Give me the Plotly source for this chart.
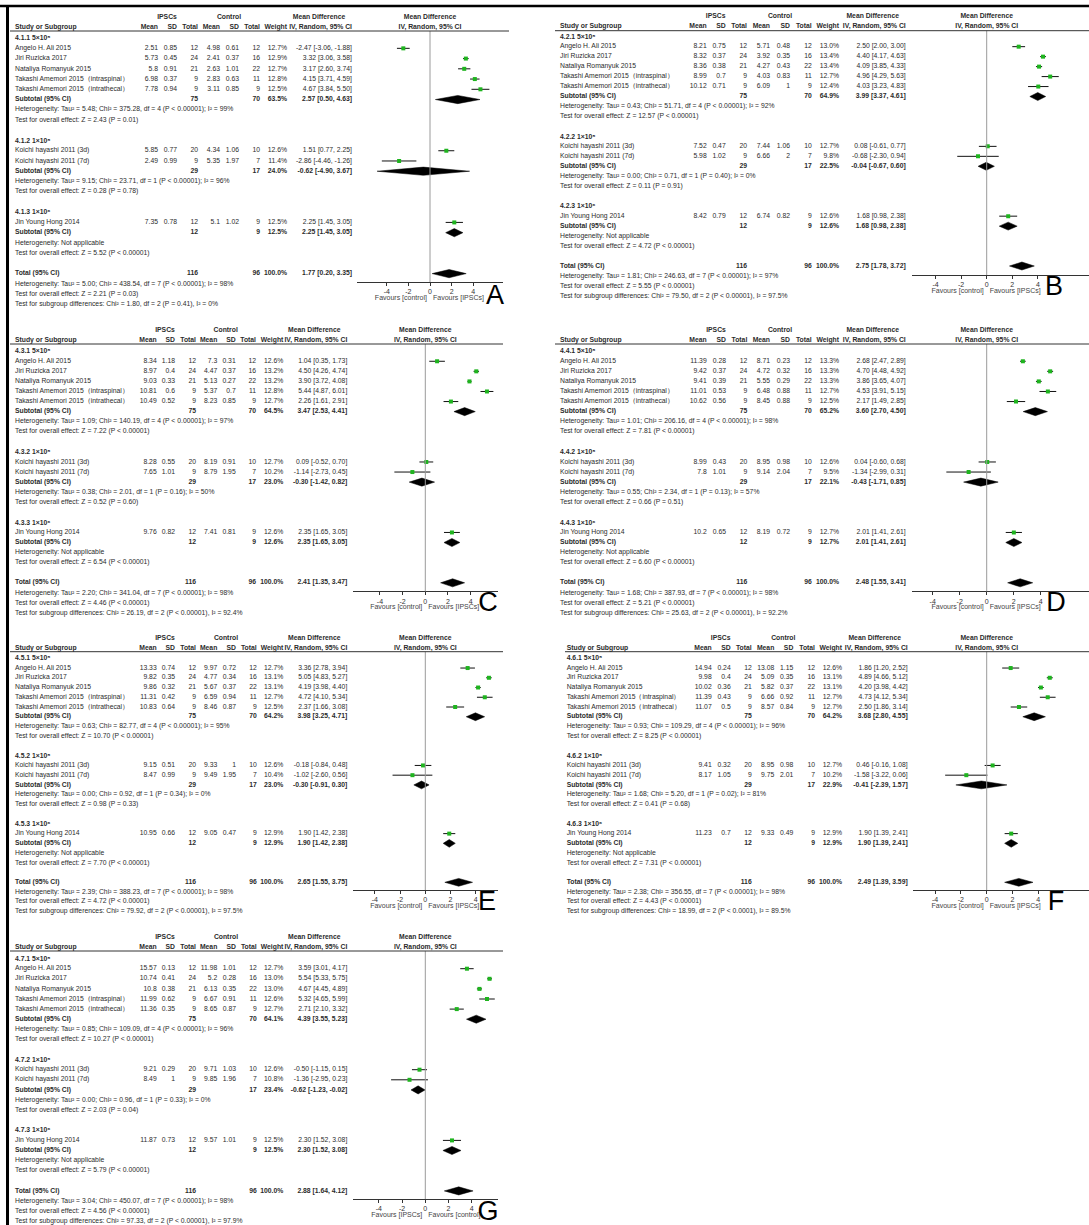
import plotly.graph_objects as go

W, H = 1089, 1225

# ---------------------------------------------------------------- shared data
STUDIES = ["Angelo H. Ali 2015", "Jiri Ruzicka 2017", "Nataliya Romanyuk 2015",
           "Takashi Amemori 2015（intraspinal）", "Takashi Amemori 2015（intrathecal）",
           "Koichi hayashi 2011 (3d)", "Koichi hayashi 2011 (7d)", "Jin Young Hong 2014"]
SUBGROUP_STUDIES = [[0, 1, 2, 3, 4], [5, 6], [7]]
DOSES = ["5×10⁵", "1×10⁵", "1×10⁶"]
IPSC_N = [12, 24, 21, 9, 9, 20, 9, 12]
CTRL_N = [12, 16, 22, 11, 9, 10, 7, 9]
POOL_IPSC_N = [75, 29, 12, 116]
POOL_CTRL_N = [70, 17, 9, 96]
TICKS = [-4, -2, 0, 2, 4]
FAVOURS = ["Favours [control]", "Favours [IPSCs]"]
FAVOURS_G = ["Favours [IPSCs]", "Favours [control]"]

# ---------------------------------------------------------------- 4.1 (A)
A_IPSC_MEAN = [2.51, 5.73, 5.8, 6.98, 7.78, 5.85, 2.49, 7.35]
A_IPSC_SD = [0.85, 0.45, 0.91, 0.37, 0.94, 0.77, 0.99, 0.78]
A_CTRL_MEAN = [4.98, 2.41, 2.63, 2.83, 3.11, 4.34, 5.35, 5.1]
A_CTRL_SD = [0.61, 0.37, 1.01, 0.63, 0.85, 1.06, 1.97, 1.02]
A_WEIGHT = [12.7, 12.9, 12.7, 12.8, 12.5, 12.6, 11.4, 12.5]
A_MD = [-2.47, 3.32, 3.17, 4.15, 4.67, 1.51, -2.86, 2.25]
A_LO = [-3.06, 3.06, 2.60, 3.71, 3.84, 0.77, -4.46, 1.45]
A_HI = [-1.88, 3.58, 3.74, 4.59, 5.50, 2.25, -1.26, 3.05]
A_POOL_WEIGHT = [63.5, 24.0, 12.5, 100.0]
A_POOL_MD = [2.57, -0.62, 2.25, 1.77]
A_POOL_LO = [0.50, -4.90, 1.45, 0.20]
A_POOL_HI = [4.63, 3.67, 3.05, 3.35]
A_HET = ["Tau² = 5.48; Chi² = 375.28, df = 4 (P < 0.00001); I² = 99%",
         "Tau² = 9.15; Chi² = 23.71, df = 1 (P < 0.00001); I² = 96%",
         "Not applicable",
         "Tau² = 5.00; Chi² = 438.54, df = 7 (P < 0.00001); I² = 98%"]
A_Z = ["Z = 2.43 (P = 0.01)", "Z = 0.28 (P = 0.78)", "Z = 5.52 (P < 0.00001)", "Z = 2.21 (P = 0.03)"]
A_SUBDIFF = "Chi² = 1.80, df = 2 (P = 0.41), I² = 0%"

# ---------------------------------------------------------------- 4.2 (B)
B_IPSC_MEAN = [8.21, 8.32, 8.36, 8.99, 10.12, 7.52, 5.98, 8.42]
B_IPSC_SD = [0.75, 0.37, 0.38, 0.7, 0.71, 0.47, 1.02, 0.79]
B_CTRL_MEAN = [5.71, 3.92, 4.27, 4.03, 6.09, 7.44, 6.66, 6.74]
B_CTRL_SD = [0.48, 0.35, 0.43, 0.83, 1, 1.06, 2, 0.82]
B_WEIGHT = [13.0, 13.4, 13.4, 12.7, 12.4, 12.7, 9.8, 12.6]
B_MD = [2.50, 4.40, 4.09, 4.96, 4.03, 0.08, -0.68, 1.68]
B_LO = [2.00, 4.17, 3.85, 4.29, 3.23, -0.61, -2.30, 0.98]
B_HI = [3.00, 4.63, 4.33, 5.63, 4.83, 0.77, 0.94, 2.38]
B_POOL_WEIGHT = [64.9, 22.5, 12.6, 100.0]
B_POOL_MD = [3.99, -0.04, 1.68, 2.75]
B_POOL_LO = [3.37, -0.67, 0.98, 1.78]
B_POOL_HI = [4.61, 0.60, 2.38, 3.72]
B_HET = ["Tau² = 0.43; Chi² = 51.71, df = 4 (P < 0.00001); I² = 92%",
         "Tau² = 0.00; Chi² = 0.71, df = 1 (P = 0.40); I² = 0%",
         "Not applicable",
         "Tau² = 1.81; Chi² = 246.63, df = 7 (P < 0.00001); I² = 97%"]
B_Z = ["Z = 12.57 (P < 0.00001)", "Z = 0.11 (P = 0.91)", "Z = 4.72 (P < 0.00001)", "Z = 5.55 (P < 0.00001)"]
B_SUBDIFF = "Chi² = 79.50, df = 2 (P < 0.00001), I² = 97.5%"

# ---------------------------------------------------------------- 4.3 (C)
C_IPSC_MEAN = [8.34, 8.97, 9.03, 10.81, 10.49, 8.28, 7.65, 9.76]
C_IPSC_SD = [1.18, 0.4, 0.33, 0.6, 0.52, 0.55, 1.01, 0.82]
C_CTRL_MEAN = [7.3, 4.47, 5.13, 5.37, 8.23, 8.19, 8.79, 7.41]
C_CTRL_SD = [0.31, 0.37, 0.27, 0.7, 0.85, 0.91, 1.95, 0.81]
C_WEIGHT = [12.6, 13.2, 13.2, 12.8, 12.7, 12.7, 10.2, 12.6]
C_MD = [1.04, 4.50, 3.90, 5.44, 2.26, 0.09, -1.14, 2.35]
C_LO = [0.35, 4.26, 3.72, 4.87, 1.61, -0.52, -2.73, 1.65]
C_HI = [1.73, 4.74, 4.08, 6.01, 2.91, 0.70, 0.45, 3.05]
C_POOL_WEIGHT = [64.5, 23.0, 12.6, 100.0]
C_POOL_MD = [3.47, -0.30, 2.35, 2.41]
C_POOL_LO = [2.53, -1.42, 1.65, 1.35]
C_POOL_HI = [4.41, 0.82, 3.05, 3.47]
C_HET = ["Tau² = 1.09; Chi² = 140.19, df = 4 (P < 0.00001); I² = 97%",
         "Tau² = 0.38; Chi² = 2.01, df = 1 (P = 0.16); I² = 50%",
         "Not applicable",
         "Tau² = 2.20; Chi² = 341.04, df = 7 (P < 0.00001); I² = 98%"]
C_Z = ["Z = 7.22 (P < 0.00001)", "Z = 0.52 (P = 0.60)", "Z = 6.54 (P < 0.00001)", "Z = 4.46 (P < 0.00001)"]
C_SUBDIFF = "Chi² = 26.19, df = 2 (P < 0.00001), I² = 92.4%"

# ---------------------------------------------------------------- 4.4 (D)
D_IPSC_MEAN = [11.39, 9.42, 9.41, 11.01, 10.62, 8.99, 7.8, 10.2]
D_IPSC_SD = [0.28, 0.37, 0.39, 0.53, 0.56, 0.43, 1.01, 0.65]
D_CTRL_MEAN = [8.71, 4.72, 5.55, 6.48, 8.45, 8.95, 9.14, 8.19]
D_CTRL_SD = [0.23, 0.32, 0.29, 0.88, 0.88, 0.98, 2.04, 0.72]
D_WEIGHT = [13.3, 13.3, 13.3, 12.7, 12.5, 12.6, 9.5, 12.7]
D_MD = [2.68, 4.70, 3.86, 4.53, 2.17, 0.04, -1.34, 2.01]
D_LO = [2.47, 4.48, 3.65, 3.91, 1.49, -0.60, -2.99, 1.41]
D_HI = [2.89, 4.92, 4.07, 5.15, 2.85, 0.68, 0.31, 2.61]
D_POOL_WEIGHT = [65.2, 22.1, 12.7, 100.0]
D_POOL_MD = [3.60, -0.43, 2.01, 2.48]
D_POOL_LO = [2.70, -1.71, 1.41, 1.55]
D_POOL_HI = [4.50, 0.85, 2.61, 3.41]
D_HET = ["Tau² = 1.01; Chi² = 206.16, df = 4 (P < 0.00001); I² = 98%",
         "Tau² = 0.55; Chi² = 2.34, df = 1 (P = 0.13); I² = 57%",
         "Not applicable",
         "Tau² = 1.68; Chi² = 387.93, df = 7 (P < 0.00001); I² = 98%"]
D_Z = ["Z = 7.81 (P < 0.00001)", "Z = 0.66 (P = 0.51)", "Z = 6.60 (P < 0.00001)", "Z = 5.21 (P < 0.00001)"]
D_SUBDIFF = "Chi² = 25.63, df = 2 (P < 0.00001), I² = 92.2%"

# ---------------------------------------------------------------- 4.5 (E)
E_IPSC_MEAN = [13.33, 9.82, 9.86, 11.31, 10.83, 9.15, 8.47, 10.95]
E_IPSC_SD = [0.74, 0.35, 0.32, 0.42, 0.64, 0.51, 0.99, 0.66]
E_CTRL_MEAN = [9.97, 4.77, 5.67, 6.59, 8.46, 9.33, 9.49, 9.05]
E_CTRL_SD = [0.72, 0.34, 0.37, 0.94, 0.87, 1, 1.95, 0.47]
E_WEIGHT = [12.7, 13.1, 13.1, 12.7, 12.5, 12.6, 10.4, 12.9]
E_MD = [3.36, 5.05, 4.19, 4.72, 2.37, -0.18, -1.02, 1.90]
E_LO = [2.78, 4.83, 3.98, 4.10, 1.66, -0.84, -2.60, 1.42]
E_HI = [3.94, 5.27, 4.40, 5.34, 3.08, 0.48, 0.56, 2.38]
E_POOL_WEIGHT = [64.2, 23.0, 12.9, 100.0]
E_POOL_MD = [3.98, -0.30, 1.90, 2.65]
E_POOL_LO = [3.25, -0.91, 1.42, 1.55]
E_POOL_HI = [4.71, 0.30, 2.38, 3.75]
E_HET = ["Tau² = 0.63; Chi² = 82.77, df = 4 (P < 0.00001); I² = 95%",
         "Tau² = 0.00; Chi² = 0.92, df = 1 (P = 0.34); I² = 0%",
         "Not applicable",
         "Tau² = 2.39; Chi² = 388.23, df = 7 (P < 0.00001); I² = 98%"]
E_Z = ["Z = 10.70 (P < 0.00001)", "Z = 0.98 (P = 0.33)", "Z = 7.70 (P < 0.00001)", "Z = 4.72 (P < 0.00001)"]
E_SUBDIFF = "Chi² = 79.92, df = 2 (P < 0.00001), I² = 97.5%"

# ---------------------------------------------------------------- 4.6 (F)
F_IPSC_MEAN = [14.94, 9.98, 10.02, 11.39, 11.07, 9.41, 8.17, 11.23]
F_IPSC_SD = [0.24, 0.4, 0.36, 0.43, 0.5, 0.32, 1.05, 0.7]
F_CTRL_MEAN = [13.08, 5.09, 5.82, 6.66, 8.57, 8.95, 9.75, 9.33]
F_CTRL_SD = [1.15, 0.35, 0.37, 0.92, 0.84, 0.98, 2.01, 0.49]
F_WEIGHT = [12.6, 13.1, 13.1, 12.7, 12.7, 12.7, 10.2, 12.9]
F_MD = [1.86, 4.89, 4.20, 4.73, 2.50, 0.46, -1.58, 1.90]
F_LO = [1.20, 4.66, 3.98, 4.12, 1.86, -0.16, -3.22, 1.39]
F_HI = [2.52, 5.12, 4.42, 5.34, 3.14, 1.08, 0.06, 2.41]
F_POOL_WEIGHT = [64.2, 22.9, 12.9, 100.0]
F_POOL_MD = [3.68, -0.41, 1.90, 2.49]
F_POOL_LO = [2.80, -2.39, 1.39, 1.39]
F_POOL_HI = [4.55, 1.57, 2.41, 3.59]
F_HET = ["Tau² = 0.93; Chi² = 109.29, df = 4 (P < 0.00001); I² = 96%",
         "Tau² = 1.68; Chi² = 5.20, df = 1 (P = 0.02); I² = 81%",
         "Not applicable",
         "Tau² = 2.38; Chi² = 356.55, df = 7 (P < 0.00001); I² = 98%"]
F_Z = ["Z = 8.25 (P < 0.00001)", "Z = 0.41 (P = 0.68)", "Z = 7.31 (P < 0.00001)", "Z = 4.43 (P < 0.00001)"]
F_SUBDIFF = "Chi² = 18.99, df = 2 (P < 0.0001), I² = 89.5%"

# ---------------------------------------------------------------- 4.7 (G)
G_IPSC_MEAN = [15.57, 10.74, 10.8, 11.99, 11.36, 9.21, 8.49, 11.87]
G_IPSC_SD = [0.13, 0.41, 0.38, 0.62, 0.35, 0.29, 1, 0.73]
G_CTRL_MEAN = [11.98, 5.2, 6.13, 6.67, 8.65, 9.71, 9.85, 9.57]
G_CTRL_SD = [1.01, 0.28, 0.35, 0.91, 0.87, 1.03, 1.96, 1.01]
G_WEIGHT = [12.7, 13.0, 13.0, 12.6, 12.7, 12.6, 10.8, 12.5]
G_MD = [3.59, 5.54, 4.67, 5.32, 2.71, -0.50, -1.36, 2.30]
G_LO = [3.01, 5.33, 4.45, 4.65, 2.10, -1.15, -2.95, 1.52]
G_HI = [4.17, 5.75, 4.89, 5.99, 3.32, 0.15, 0.23, 3.08]
G_POOL_WEIGHT = [64.1, 23.4, 12.5, 100.0]
G_POOL_MD = [4.39, -0.62, 2.30, 2.88]
G_POOL_LO = [3.55, -1.23, 1.52, 1.64]
G_POOL_HI = [5.23, -0.02, 3.08, 4.12]
G_HET = ["Tau² = 0.85; Chi² = 109.09, df = 4 (P < 0.00001); I² = 96%",
         "Tau² = 0.00; Chi² = 0.96, df = 1 (P = 0.33); I² = 0%",
         "Not applicable",
         "Tau² = 3.04; Chi² = 450.07, df = 7 (P < 0.00001); I² = 98%"]
G_Z = ["Z = 10.27 (P < 0.00001)", "Z = 2.03 (P = 0.04)", "Z = 5.79 (P < 0.00001)", "Z = 4.56 (P < 0.00001)"]
G_SUBDIFF = "Chi² = 97.33, df = 2 (P < 0.00001), I² = 97.9%"

# ---------------------------------------------------------------- panels
PANELS = [
    dict(letter="A", code="4.1", im=A_IPSC_MEAN, isd=A_IPSC_SD, cm=A_CTRL_MEAN, csd=A_CTRL_SD,
         w=A_WEIGHT, md=A_MD, lo=A_LO, hi=A_HI, pw=A_POOL_WEIGHT, pmd=A_POOL_MD,
         plo=A_POOL_LO, phi=A_POOL_HI, het=A_HET, z=A_Z, sub=A_SUBDIFF, fav=FAVOURS),
    dict(letter="B", code="4.2", im=B_IPSC_MEAN, isd=B_IPSC_SD, cm=B_CTRL_MEAN, csd=B_CTRL_SD,
         w=B_WEIGHT, md=B_MD, lo=B_LO, hi=B_HI, pw=B_POOL_WEIGHT, pmd=B_POOL_MD,
         plo=B_POOL_LO, phi=B_POOL_HI, het=B_HET, z=B_Z, sub=B_SUBDIFF, fav=FAVOURS),
    dict(letter="C", code="4.3", im=C_IPSC_MEAN, isd=C_IPSC_SD, cm=C_CTRL_MEAN, csd=C_CTRL_SD,
         w=C_WEIGHT, md=C_MD, lo=C_LO, hi=C_HI, pw=C_POOL_WEIGHT, pmd=C_POOL_MD,
         plo=C_POOL_LO, phi=C_POOL_HI, het=C_HET, z=C_Z, sub=C_SUBDIFF, fav=FAVOURS),
    dict(letter="D", code="4.4", im=D_IPSC_MEAN, isd=D_IPSC_SD, cm=D_CTRL_MEAN, csd=D_CTRL_SD,
         w=D_WEIGHT, md=D_MD, lo=D_LO, hi=D_HI, pw=D_POOL_WEIGHT, pmd=D_POOL_MD,
         plo=D_POOL_LO, phi=D_POOL_HI, het=D_HET, z=D_Z, sub=D_SUBDIFF, fav=FAVOURS),
    dict(letter="E", code="4.5", im=E_IPSC_MEAN, isd=E_IPSC_SD, cm=E_CTRL_MEAN, csd=E_CTRL_SD,
         w=E_WEIGHT, md=E_MD, lo=E_LO, hi=E_HI, pw=E_POOL_WEIGHT, pmd=E_POOL_MD,
         plo=E_POOL_LO, phi=E_POOL_HI, het=E_HET, z=E_Z, sub=E_SUBDIFF, fav=FAVOURS),
    dict(letter="F", code="4.6", im=F_IPSC_MEAN, isd=F_IPSC_SD, cm=F_CTRL_MEAN, csd=F_CTRL_SD,
         w=F_WEIGHT, md=F_MD, lo=F_LO, hi=F_HI, pw=F_POOL_WEIGHT, pmd=F_POOL_MD,
         plo=F_POOL_LO, phi=F_POOL_HI, het=F_HET, z=F_Z, sub=F_SUBDIFF, fav=FAVOURS),
    dict(letter="G", code="4.7", im=G_IPSC_MEAN, isd=G_IPSC_SD, cm=G_CTRL_MEAN, csd=G_CTRL_SD,
         w=G_WEIGHT, md=G_MD, lo=G_LO, hi=G_HI, pw=G_POOL_WEIGHT, pmd=G_POOL_MD,
         plo=G_POOL_LO, phi=G_POOL_HI, het=G_HET, z=G_Z, sub=G_SUBDIFF, fav=FAVOURS_G),
]

# Page geometry of each panel (pixels): table columns, forest scale, rows.
# cols = right edges of Mean, SD, Total | Mean, SD, Total | Weight | MD text
GEOM = {
    "A": dict(sx=15, cols=[158, 177, 198, 220, 239, 260, 287, 352], zero=430, pxu=10.8,
              ax=(357, 503), row0=38.1, dy=10.24, h1=17, h2=27, rule=(10, 509, 31),
              axis_y=282, lpos=(495, 297)),
    "B": dict(sx=560, cols=[706.7, 725.7, 747, 770, 790, 811.7, 839, 905.7], zero=986.7, pxu=12.8,
              ax=(911.7, 1089), row0=36.7, dy=9.97, h1=16.7, h2=26.7, rule=(555, 1089, 30.7),
              axis_y=275, lpos=(1054, 288)),
    "C": dict(sx=15, cols=[156.7, 175, 196, 217.3, 235.7, 256, 283.3, 347.3], zero=425.3, pxu=11.33,
              ax=(353, 498), row0=351.2, dy=10.07, h1=330.7, h2=340.7, rule=(10, 503, 344),
              axis_y=591.3, lpos=(488, 604)),
    "D": dict(sx=560, cols=[706.7, 726, 747.3, 770, 790, 811.7, 839, 905.7], zero=986.7, pxu=13.5,
              ax=(911.7, 1089), row0=351.2, dy=10.07, h1=330.7, h2=340.7, rule=(555, 1089, 344),
              axis_y=591.3, lpos=(1056, 604)),
    "E": dict(sx=15, cols=[156.7, 175, 196, 217.3, 236, 256.7, 283.3, 347.3], zero=425.3, pxu=12.6,
              ax=(353, 498), row0=658.3, dy=9.74, h1=638.3, h2=648.3, rule=(10, 503, 651.7),
              axis_y=890, lpos=(487, 903)),
    "F": dict(sx=566.7, cols=[711.7, 730.7, 751.7, 774.3, 793.3, 815, 842, 907.7], zero=986.7, pxu=12.9,
              ax=(913, 1089), row0=658.3, dy=9.74, h1=638.3, h2=648.3, rule=(565, 1089, 651.7),
              axis_y=890, lpos=(1056, 903)),
    "G": dict(sx=15, cols=[156.7, 175, 196, 217.3, 236, 256.7, 283.3, 347.3], zero=425.3, pxu=11.6,
              ax=(353, 498), row0=958.6, dy=10.1, h1=937.7, h2=947.7, rule=(10, 503, 951),
              axis_y=1199, lpos=(488, 1213)),
}

FONT = "Liberation Sans, Arial, sans-serif"
TEXT_SIZE = 6.8
TEXT_COL = "#2b2b2b"
GREEN = "#1fb41f"
POS = {"l": "middle right", "r": "middle left", "c": "middle center"}


def num(v):
    return format(v, "g")


def ci_text(m, lo, hi):
    return f"{m:.2f} [{lo:.2f}, {hi:.2f}]"


fig = go.Figure()
layout = dict(width=W, height=H, margin=dict(l=0, r=0, t=0, b=0),
              paper_bgcolor="white", plot_bgcolor="rgba(0,0,0,0)",
              showlegend=False, shapes=[])

# shared vertical pixel axis and horizontal pixel axis for the tables
layout["yaxis"] = dict(domain=[0, 1], range=[H, 0], visible=False, fixedrange=True)
layout["xaxis8"] = dict(domain=[0, 1], range=[0, W], visible=False, fixedrange=True, anchor="y")

letter_x, letter_y, letter_t = [], [], []

for k, p in enumerate(PANELS, start=1):
    g = GEOM[p["letter"]]
    xname = "x" if k == 1 else f"x{k}"
    xkey = "xaxis" if k == 1 else f"xaxis{k}"
    c = g["cols"]
    sx = g["sx"]

    def row_y(i):
        return g["row0"] + i * g["dy"]

    tx, ty, tt, tp = [], [], [], []

    def put(x, y, s, align, bold=False):
        tx.append(x)
        ty.append(y)
        tt.append(f"<b>{s}</b>" if bold else s)
        tp.append(POS[align])

    # header block
    put((c[1] - 10), g["h1"], "IPSCs", "c", True)
    put((c[4] - 10), g["h1"], "Control", "c", True)
    put(c[7] - 33, g["h1"], "Mean Difference", "c", True)
    put(g["zero"], g["h1"], "Mean Difference", "c", True)
    put(sx, g["h2"], "Study or Subgroup", "l", True)
    for col, lab in zip(c[:7], ["Mean", "SD", "Total", "Mean", "SD", "Total", "Weight"]):
        put(col, g["h2"], lab, "r", True)
    put(c[7], g["h2"], "IV, Random, 95% CI", "r", True)
    put(g["zero"], g["h2"], "IV, Random, 95% CI", "c", True)

    study_rows, pool_rows = [], []
    r = 0
    for s, members in enumerate(SUBGROUP_STUDIES):
        put(sx, row_y(r) + 0.5, f"{p['code']}.{s + 1} {DOSES[s]}", "l", True)
        r += 1
        for j in members:
            y = row_y(r)
            study_rows.append(y)
            put(sx, y, STUDIES[j], "l")
            vals = [num(p["im"][j]), num(p["isd"][j]), str(IPSC_N[j]),
                    num(p["cm"][j]), num(p["csd"][j]), str(CTRL_N[j]),
                    f"{p['w'][j]:.1f}%", ci_text(p["md"][j], p["lo"][j], p["hi"][j])]
            for col, v in zip(c, vals):
                put(col, y, v, "r")
            r += 1
        y = row_y(r)
        pool_rows.append(y)
        put(sx, y, "Subtotal (95% CI)", "l", True)
        put(c[2], y, str(POOL_IPSC_N[s]), "r", True)
        put(c[5], y, str(POOL_CTRL_N[s]), "r", True)
        put(c[6], y, f"{p['pw'][s]:.1f}%", "r", True)
        put(c[7], y, ci_text(p["pmd"][s], p["plo"][s], p["phi"][s]), "r", True)
        put(sx, row_y(r + 1), "Heterogeneity: " + p["het"][s], "l")
        put(sx, row_y(r + 2), "Test for overall effect: " + p["z"][s], "l")
        r += 4

    y = row_y(r)
    pool_rows.append(y)
    put(sx, y, "Total (95% CI)", "l", True)
    put(c[2], y, str(POOL_IPSC_N[3]), "r", True)
    put(c[5], y, str(POOL_CTRL_N[3]), "r", True)
    put(c[6], y, f"{p['pw'][3]:.1f}%", "r", True)
    put(c[7], y, ci_text(p["pmd"][3], p["plo"][3], p["phi"][3]), "r", True)
    put(sx, row_y(r + 1), "Heterogeneity: " + p["het"][3], "l")
    put(sx, row_y(r + 2), "Test for overall effect: " + p["z"][3], "l")
    put(sx, row_y(r + 3), "Test for subgroup differences: " + p["sub"], "l")

    fig.add_trace(go.Scatter(x=tx, y=ty, text=tt, textposition=tp, mode="text",
                             xaxis="x8", yaxis="y", hoverinfo="skip", cliponaxis=False,
                             textfont=dict(family=FONT, size=TEXT_SIZE, color=TEXT_COL)))

    # favours labels either side of the line of no effect
    fig.add_trace(go.Scatter(x=[g["zero"] - 3, g["zero"] + 3],
                             y=[g["axis_y"] + 16, g["axis_y"] + 16],
                             text=p["fav"], textposition=["middle left", "middle right"],
                             mode="text", xaxis="x8", yaxis="y", hoverinfo="skip",
                             cliponaxis=False,
                             textfont=dict(family=FONT, size=7, color="#444444")))

    letter_x.append(g["lpos"][0])
    letter_y.append(g["lpos"][1])
    letter_t.append(p["letter"])

    # confidence intervals of the individual studies
    cx, cy = [], []
    for j, y in enumerate(study_rows):
        cx += [p["lo"][j], p["hi"][j], None]
        cy += [y, y, None]
    fig.add_trace(go.Scatter(x=cx, y=cy, mode="lines", xaxis=xname, yaxis="y",
                             line=dict(color="#111111", width=1), hoverinfo="skip"))
    fig.add_trace(go.Scatter(x=p["md"], y=study_rows, mode="markers", xaxis=xname, yaxis="y",
                             marker=dict(symbol="square", size=4, color=GREEN,
                                         line=dict(width=0)), hoverinfo="skip"))

    # pooled estimates as diamonds
    half = 0.4 * g["dy"]
    for s, y in enumerate(pool_rows):
        fig.add_trace(go.Scatter(
            x=[p["plo"][s], p["pmd"][s], p["phi"][s], p["pmd"][s], p["plo"][s]],
            y=[y, y - half, y, y + half, y], mode="lines", fill="toself",
            fillcolor="black", line=dict(color="black", width=0.5),
            xaxis=xname, yaxis="y", hoverinfo="skip"))

    # forest axis
    a0, a1 = g["ax"]
    layout[xkey] = dict(domain=[a0 / W, a1 / W],
                        range=[(a0 - g["zero"]) / g["pxu"], (a1 - g["zero"]) / g["pxu"]],
                        anchor="free", position=1 - g["axis_y"] / H,
                        showgrid=False, zeroline=False, showline=True, linecolor="#333333",
                        linewidth=1, ticks="outside", ticklen=3, tickcolor="#333333",
                        tickvals=TICKS, ticktext=[str(t) for t in TICKS],
                        tickfont=dict(family=FONT, size=7, color="#333333"),
                        fixedrange=True)

    # line of no effect
    layout["shapes"].append(dict(type="line", xref=xname, yref="y", x0=0, x1=0,
                                 y0=g["rule"][2], y1=g["axis_y"],
                                 line=dict(color="#9a9a9a", width=1)))
    # header rule
    layout["shapes"].append(dict(type="line", xref="paper", yref="y",
                                 x0=g["rule"][0] / W, x1=g["rule"][1] / W,
                                 y0=g["rule"][2], y1=g["rule"][2],
                                 line=dict(color="#333333", width=1)))

# panel letters
fig.add_trace(go.Scatter(x=letter_x, y=letter_y, text=letter_t, mode="text",
                         textposition="middle center", xaxis="x8", yaxis="y",
                         hoverinfo="skip", cliponaxis=False,
                         textfont=dict(family=FONT, size=27, color="black")))

# outer frame: top and left edges
layout["shapes"].append(dict(type="line", xref="paper", yref="paper", x0=0, x1=1,
                             y0=1 - 6 / H, y1=1 - 6 / H, line=dict(color="black", width=2.5)))
layout["shapes"].append(dict(type="line", xref="paper", yref="paper", x0=7.5 / W, x1=7.5 / W,
                             y0=0, y1=1 - 5 / H, line=dict(color="black", width=3)))

fig.update_layout(**layout)
fig.write_html("out.html", config={"displayModeBar": False})
